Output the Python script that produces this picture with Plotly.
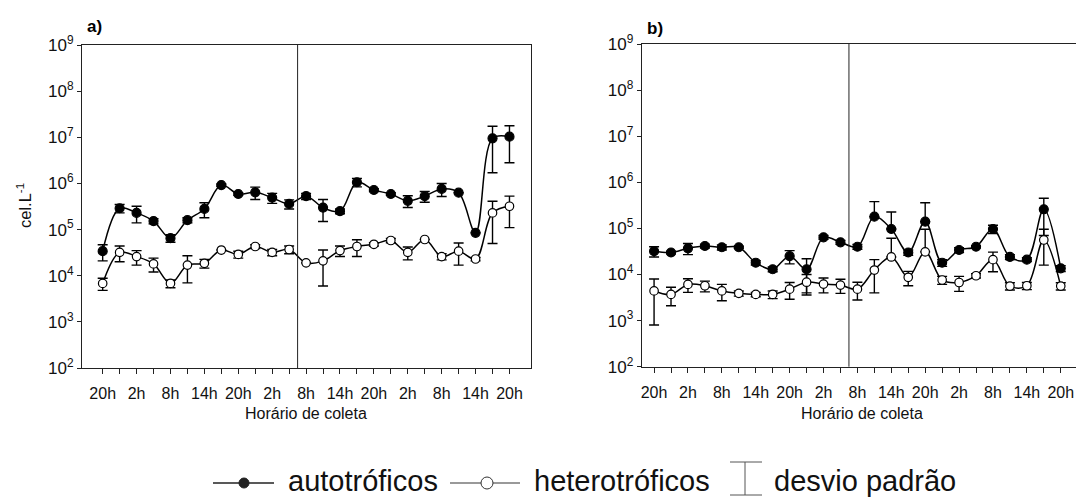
import plotly.graph_objects as go

# ---------------- data ----------------
hour_labels = ["20h", "2h", "8h", "14h", "20h", "2h", "8h", "14h", "20h", "2h", "8h", "14h", "20h"]
n_points = 25
sample_idx = list(range(n_points))

# panel a
auto_a = [3.4e4, 2.9e5, 2.3e5, 1.53e5, 6.5e4, 1.6e5, 2.8e5, 9.2e5, 5.9e5, 6.4e5, 4.9e5, 3.6e5,
          5.3e5, 3.0e5, 2.5e5, 1.06e6, 7.2e5, 5.9e5, 4.2e5, 5.3e5, 7.6e5, 6.3e5, 8.5e4, 9.5e6, 1.03e7]
auto_a_sd = [1.3e4, 6e4, 9e4, 2e4, 1.2e4, 2e4, 1.0e5, 5e4, 4e4, 1.9e5, 1.2e5, 8e4,
             8e4, 1.5e5, 3e4, 2.2e5, 5e4, 4e4, 1.2e5, 1.4e5, 2.4e5, 0, 0, 7.8e6, 7.5e6]
het_a = [6.8e3, 3.2e4, 2.6e4, 1.8e4, 6.8e3, 1.7e4, 1.86e4, 3.6e4, 2.9e4, 4.3e4, 3.2e4, 3.7e4,
         1.9e4, 2.1e4, 3.5e4, 4.3e4, 4.8e4, 5.8e4, 3.2e4, 6.1e4, 2.6e4, 3.4e4, 2.3e4, 2.3e5, 3.2e5]
het_a_sd = [2e3, 1.2e4, 9e3, 6e3, 1.3e3, 1e4, 4e3, 0, 5e3, 4e3, 5e3, 7e3,
            0, 1.5e4, 9e3, 1.7e4, 4e3, 6e3, 1e4, 0, 4e3, 1.7e4, 2e3, 1.8e5, 2.1e5]

# panel b
auto_b = [3.2e4, 3.0e4, 3.7e4, 4.15e4, 3.9e4, 3.9e4, 1.8e4, 1.3e4, 2.5e4, 1.3e4, 6.4e4, 5.0e4,
          4.0e4, 1.8e5, 9.7e4, 3.0e4, 1.4e5, 1.8e4, 3.4e4, 4.0e4, 9.7e4, 2.4e4, 2.1e4, 2.6e5, 1.36e4]
auto_b_sd = [8e3, 2e3, 1e4, 4e3, 5e3, 2e3, 2e3, 1.5e3, 8e3, 9e3, 6e3, 5e3,
             5e3, 2e5, 1.3e5, 4e3, 2.2e5, 3e3, 4e3, 2e3, 2e4, 3e3, 2e3, 1.9e5, 2e3]
het_b = [4.4e3, 3.7e3, 6.1e3, 5.7e3, 4.4e3, 3.9e3, 3.7e3, 3.7e3, 4.8e3, 6.8e3, 6.2e3, 5.9e3,
         4.8e3, 1.25e4, 2.4e4, 8.7e3, 3.1e4, 7.6e3, 6.7e3, 9.4e3, 2.1e4, 5.6e3, 5.7e3, 5.6e4, 5.6e3]
het_b_sd = [3.6e3, 1.6e3, 2e3, 1.5e3, 1.7e3, 5e2, 4e2, 7e2, 1.9e3, 3.2e3, 2.2e3, 2e3,
            2e3, 8.5e3, 3.7e4, 3e3, 6.5e4, 1.5e3, 2.4e3, 1e3, 9.5e3, 1e3, 1e3, 4e4, 1e3]

y_exponents = [2, 3, 4, 5, 6, 7, 8, 9]

# ---------------- layout helpers ----------------
W, H = 1076, 497
FONT = "Liberation Sans, Arial, sans-serif"


def px_x(p):
    return p / W


def px_y(p):
    return (H - p) / H


def minus(vals, sds):
    # lower bar is not drawn when it would reach zero or below
    return [s if s < v else 0 for v, s in zip(vals, sds)]


fig = go.Figure()


def add_series(vals, sds, xa, ya, filled):
    fig.add_trace(go.Scatter(
        x=sample_idx, y=vals, xaxis=xa, yaxis=ya, mode="lines+markers",
        line=dict(color="black", width=1.5, shape="spline", smoothing=1),
        marker=dict(size=9 if filled else 8.5, color="black" if filled else "white",
                    line=dict(color="black", width=1.2)),
        error_y=dict(type="data", symmetric=False, array=sds, arrayminus=minus(vals, sds),
                     color="black", thickness=1.4, width=5),
        showlegend=False, hoverinfo="skip"))


add_series(auto_a, auto_a_sd, "x", "y", True)
add_series(het_a, het_a_sd, "x", "y", False)
add_series(auto_b, auto_b_sd, "x2", "y2", True)
add_series(het_b, het_b_sd, "x2", "y2", False)

label_idx = sample_idx[::2]
minor_idx = sample_idx[1::2]
tick_text_y = ["10<sup>%d</sup>" % e for e in y_exponents]
tick_vals_y = [10 ** e for e in y_exponents]

xcommon = dict(tickmode="array", tickvals=label_idx, ticktext=hour_labels, ticks="outside",
               ticklen=5, tickcolor="#222", showline=True, linecolor="#222", linewidth=1,
               minor=dict(tickmode="array", tickvals=minor_idx, ticks="outside", ticklen=5,
                          tickcolor="#222", showgrid=False),
               showgrid=False, zeroline=False, tickfont=dict(family=FONT, size=16, color="#111"),
               ticklabelstandoff=6, automargin=False, tickangle=0)
ycommon = dict(type="log", range=[2, 9], tickmode="array", tickvals=tick_vals_y, ticktext=tick_text_y,
               ticks="outside", ticklen=4, tickcolor="#222", showline=True, linecolor="#222",
               linewidth=1, showgrid=False, zeroline=False, automargin=False,
               tickfont=dict(family=FONT, size=17, color="#111"))

fig.update_layout(
    template="none",
    width=W, height=H, margin=dict(l=0, r=0, t=0, b=0, pad=0), autosize=False,
    paper_bgcolor="white", plot_bgcolor="white", showlegend=False,
    xaxis=dict(domain=[px_x(82), px_x(531)], range=[-1.22, 25.27], mirror=True, **xcommon),
    yaxis=dict(domain=[px_y(368), px_y(45)], mirror=True, **ycommon),
    xaxis2=dict(domain=[px_x(641.7), 1.0], range=[-0.73, 24.9], mirror=True, anchor="y2", **xcommon),
    yaxis2=dict(domain=[px_y(366.7), px_y(44)], mirror=False, anchor="x2", **ycommon),
)

# vertical separators
divider = 11.5
for xr, yr in (("x", "y domain"), ("x2", "y2 domain")):
    fig.add_shape(type="line", xref=xr, yref=yr, x0=divider, x1=divider, y0=0, y1=1,
                  line=dict(color="#222", width=1))

# texts
ann = []
ann.append(dict(text="<b>a)</b>", x=px_x(85), y=px_y(26), xanchor="left", yanchor="middle",
                font=dict(family=FONT, size=17, color="black")))
ann.append(dict(text="<b>b)</b>", x=px_x(645), y=px_y(28), xanchor="left", yanchor="middle",
                font=dict(family=FONT, size=17, color="black")))
ann.append(dict(text="cel.L<sup>-1</sup>", x=px_x(24), y=px_y(206), textangle=-90,
                xanchor="center", yanchor="middle", font=dict(family=FONT, size=16.5, color="#111")))
ann.append(dict(text="Horário de coleta", x=px_x(306), y=px_y(413), xanchor="center", yanchor="middle",
                font=dict(family=FONT, size=16, color="#111")))
ann.append(dict(text="Horário de coleta", x=px_x(862), y=px_y(413), xanchor="center", yanchor="middle",
                font=dict(family=FONT, size=16, color="#111")))

# legend (drawn manually)
LEG_Y = 483
ann.append(dict(text="autotróficos", x=px_x(286), y=px_y(481), xanchor="left", yanchor="middle",
                font=dict(family=FONT, size=29, color="#111")))
ann.append(dict(text="heterotróficos", x=px_x(532), y=px_y(481), xanchor="left", yanchor="middle",
                font=dict(family=FONT, size=29, color="#111")))
ann.append(dict(text="desvio padrão", x=px_x(772), y=px_y(481), xanchor="left", yanchor="middle",
                font=dict(family=FONT, size=29, color="#111")))
for a in ann:
    a.update(xref="paper", yref="paper", showarrow=False)
fig.update_layout(annotations=ann)

fig.add_shape(type="line", xref="paper", yref="paper", x0=px_x(213), x1=px_x(274),
              y0=px_y(LEG_Y), y1=px_y(LEG_Y), line=dict(color="#222", width=1.5))
fig.add_shape(type="circle", xref="paper", yref="paper", x0=px_x(239), x1=px_x(249),
              y0=px_y(LEG_Y + 5), y1=px_y(LEG_Y - 5), fillcolor="#222", line=dict(color="#222", width=1))
fig.add_shape(type="line", xref="paper", yref="paper", x0=px_x(450), x1=px_x(520),
              y0=px_y(LEG_Y), y1=px_y(LEG_Y), line=dict(color="#777", width=1.5))
fig.add_shape(type="circle", xref="paper", yref="paper", x0=px_x(481), x1=px_x(493),
              y0=px_y(LEG_Y + 6), y1=px_y(LEG_Y - 6), fillcolor="white", line=dict(color="#333", width=1))
for yy in (462, 495):
    fig.add_shape(type="line", xref="paper", yref="paper", x0=px_x(730), x1=px_x(762),
                  y0=px_y(yy), y1=px_y(yy), line=dict(color="#555", width=1))
fig.add_shape(type="line", xref="paper", yref="paper", x0=px_x(745), x1=px_x(745),
              y0=px_y(462), y1=px_y(495), line=dict(color="#555", width=1))

fig.write_html("out.html", config={"displayModeBar": False},
               post_script="document.body.style.margin='0';document.body.style.overflow='hidden';")
